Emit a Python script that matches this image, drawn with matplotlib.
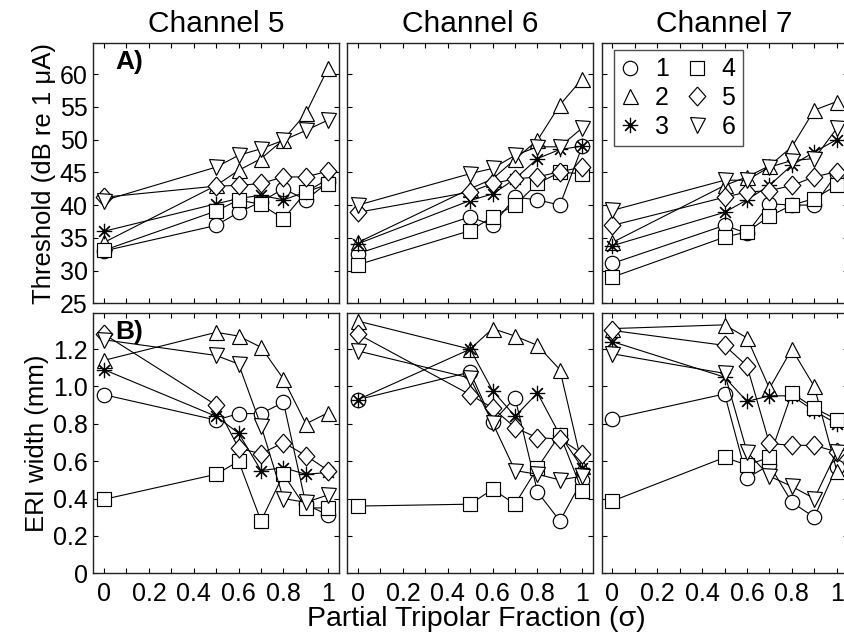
import numpy as np
import matplotlib
matplotlib.use('Agg')
import matplotlib.pyplot as plt
from matplotlib.lines import Line2D
from matplotlib.ticker import MultipleLocator, FixedLocator

plt.rcParams['font.family'] = ['Liberation Sans', 'DejaVu Sans']

# ---------------- data ----------------
sigma = [0, 0.5, 0.6, 0.7, 0.8, 0.9, 1.0]
channels = ['Channel 5', 'Channel 6', 'Channel 7']
subjects = ['1', '2', '3', '4', '5', '6']

# Thresholds (dB re 1 uA), one list per subject (1..6)
thr_ch5 = [
    [33.0, 36.9, 38.9, 40.5, 42.5, 40.8, 43.5],
    [34.3, 43.0, 45.3, 47.1, 50.0, 54.0, 61.0],
    [36.0, 40.2, 41.0, 41.5, 40.8, 42.0, 44.0],
    [33.1, 39.1, 40.8, 40.1, 37.9, 42.0, 43.2],
    [41.2, 42.9, 43.0, 43.3, 44.3, 44.3, 45.2],
    [40.7, 45.8, 47.6, 48.6, 49.9, 51.4, 53.0],
]
thr_ch6 = [
    [32.6, 38.2, 36.9, 41.2, 40.8, 40.0, 49.0],
    [34.3, 42.5, 44.0, 47.0, 49.9, 55.3, 59.3],
    [34.1, 40.7, 41.7, 44.0, 47.1, 48.5, 49.0],
    [30.9, 36.1, 38.2, 40.0, 43.3, 45.0, 44.8],
    [38.9, 42.0, 43.3, 44.0, 44.3, 45.1, 45.8],
    [40.0, 44.8, 45.6, 47.6, 48.9, 48.9, 51.8],
]
thr_ch7 = [
    [31.1, 36.9, 35.7, 40.2, 40.0, 40.0, 44.8],
    [34.3, 43.0, 44.3, 46.0, 48.9, 54.5, 55.8],
    [33.8, 38.9, 40.8, 43.0, 46.1, 48.1, 50.0],
    [29.0, 35.1, 35.9, 38.3, 40.0, 41.0, 43.0],
    [36.9, 41.2, 42.0, 42.2, 43.0, 44.3, 45.1],
    [39.2, 43.8, 43.8, 45.8, 46.8, 47.1, 51.7],
]

# ERI width (mm)
eri_ch5 = [
    [0.956, 0.82, 0.855, 0.855, 0.915, 0.37, 0.31],
    [1.14, 1.29, 1.27, 1.21, 1.04, 0.80, 0.86],
    [1.09, 0.84, 0.75, 0.55, 0.565, 0.53, 0.54],
    [0.396, 0.53, 0.60, 0.28, 0.53, 0.35, 0.35],
    [1.28, 0.90, 0.67, 0.64, 0.70, 0.63, 0.55],
    [1.25, 1.166, 1.12, 0.79, 0.40, 0.38, 0.42],
]
eri_ch6 = [
    [0.93, 1.077, 0.81, 0.94, 0.436, 0.28, 0.50],
    [1.35, 1.20, 1.31, 1.27, 1.22, 1.09, 0.574],
    [0.93, 1.20, 0.978, 0.84, 0.965, 0.74, 0.565],
    [0.36, 0.37, 0.45, 0.37, 0.565, 0.743, 0.44],
    [1.28, 0.956, 0.885, 0.78, 0.725, 0.72, 0.64],
    [1.19, 1.045, 0.805, 0.55, 0.53, 0.50, 0.52],
]
eri_ch7 = [
    [0.828, 0.96, 0.51, 0.58, 0.38, 0.30, 0.57],
    [1.31, 1.33, 1.26, 0.99, 1.20, 1.00, 0.55],
    [1.24, 1.05, 0.92, 0.95, 0.95, 0.87, 0.80],
    [0.387, 0.62, 0.58, 0.62, 0.965, 0.885, 0.823],
    [1.30, 1.22, 1.11, 0.695, 0.685, 0.685, 0.65],
    [1.175, 1.07, 0.65, 0.52, 0.465, 0.40, 0.65],
]

thr_all = [thr_ch5, thr_ch6, thr_ch7]
eri_all = [eri_ch5, eri_ch6, eri_ch7]

x_ticks = [0, 0.2, 0.4, 0.6, 0.8, 1.0]
x_ticklabels = ['0', '0.2', '0.4', '0.6', '0.8', '1']
thr_ticks = [25, 30, 35, 40, 45, 50, 55, 60]
eri_ticks = [0, 0.2, 0.4, 0.6, 0.8, 1.0, 1.2]
eri_ticklabels = ['0', '0.2', '0.4', '0.6', '0.8', '1.0', '1.2']

# ---------------- styles ----------------
diamond = [(0, 1), (0.88, 0), (0, -1), (-0.88, 0), (0, 1)]
markers = ['o', '^', (8, 2, 0), 's', diamond, 'v']
msizes = [10.4, 10.8, 11.0, 9.6, 13.6, 10.8]

W, H = 845, 644
fig = plt.figure(figsize=(W / 100, H / 100), dpi=100)

lefts = [93.3, 347.3, 601.7]
aw = 246.0
ah = 260.6
row_bottoms = [303.3, 573.3]

tick_fs = 18


def style_axes(ax):
    ax.tick_params(axis='both', which='both', direction='in', top=True, right=True,
                   length=3.5, width=0.8, labelsize=tick_fs, pad=4)
    ax.tick_params(axis='x', which='both', pad=6)
    for sp in ax.spines.values():
        sp.set_linewidth(1.0)
        sp.set_color('#222222')


axes = [[None] * 3 for _ in range(2)]
for r in range(2):
    for c in range(3):
        ax = fig.add_axes([lefts[c] / W, 1 - row_bottoms[r] / H, aw / W, ah / H])
        axes[r][c] = ax
        data = thr_all[c] if r == 0 else eri_all[c]
        for i in range(6):
            ax.plot(sigma, data[i], color='k', lw=0.8, marker=markers[i],
                    markersize=msizes[i], mfc='white', mec='k', mew=0.85,
                    zorder=2 + i, clip_on=False)
        ax.set_xlim(-0.048, 1.049)
        ax.xaxis.set_major_locator(FixedLocator(x_ticks))
        ax.xaxis.set_minor_locator(MultipleLocator(0.1))
        if r == 0:
            ax.set_ylim(25, 64.8)
            ax.set_yticks(thr_ticks)
            ax.set_xticklabels([])
            ax.set_title(channels[c], fontsize=21.5, pad=8)
        else:
            ax.set_ylim(0, 1.395)
            ax.set_yticks(eri_ticks)
            ax.set_xticklabels(x_ticklabels)
        if c == 0:
            if r == 0:
                ax.set_yticklabels([str(t) for t in thr_ticks])
            else:
                ax.set_yticklabels(eri_ticklabels)
        else:
            ax.set_yticklabels([])
        style_axes(ax)

axes[0][0].text(0.088, 0.972, 'A)', transform=axes[0][0].transAxes, fontsize=19,
                fontweight='bold', va='top', ha='left', zorder=20)
axes[1][0].text(0.088, 0.972, 'B)', transform=axes[1][0].transAxes, fontsize=19,
                fontweight='bold', va='top', ha='left', zorder=20)

axes[0][0].set_ylabel('Threshold (dB re 1 \u03bcA)', fontsize=18.5, labelpad=3)
axes[1][0].set_ylabel('ERI width (mm)', fontsize=18.5, labelpad=3)
fig.text(476 / W, 1 - 619 / H, 'Partial Tripolar Fraction (\u03c3)', fontsize=20.5,
         ha='center', va='center')

handles = [Line2D([], [], linestyle='none', marker=markers[i], markersize=msizes[i],
                  mfc='white', mec='k', mew=0.85) for i in range(6)]
leg = axes[0][2].legend(handles, subjects, ncol=2, loc='upper left',
                        bbox_to_anchor=(12.3 / aw, 1 - 7.3 / ah), fontsize=18,
                        frameon=True, fancybox=False, edgecolor='#222222',
                        handlelength=0.7, handletextpad=0.64, columnspacing=0.76,
                        labelspacing=0.18, borderpad=0.3, borderaxespad=0)
leg.get_frame().set_linewidth(1.0)
leg.set_zorder(30)

fig.savefig('out.png', dpi=100)
